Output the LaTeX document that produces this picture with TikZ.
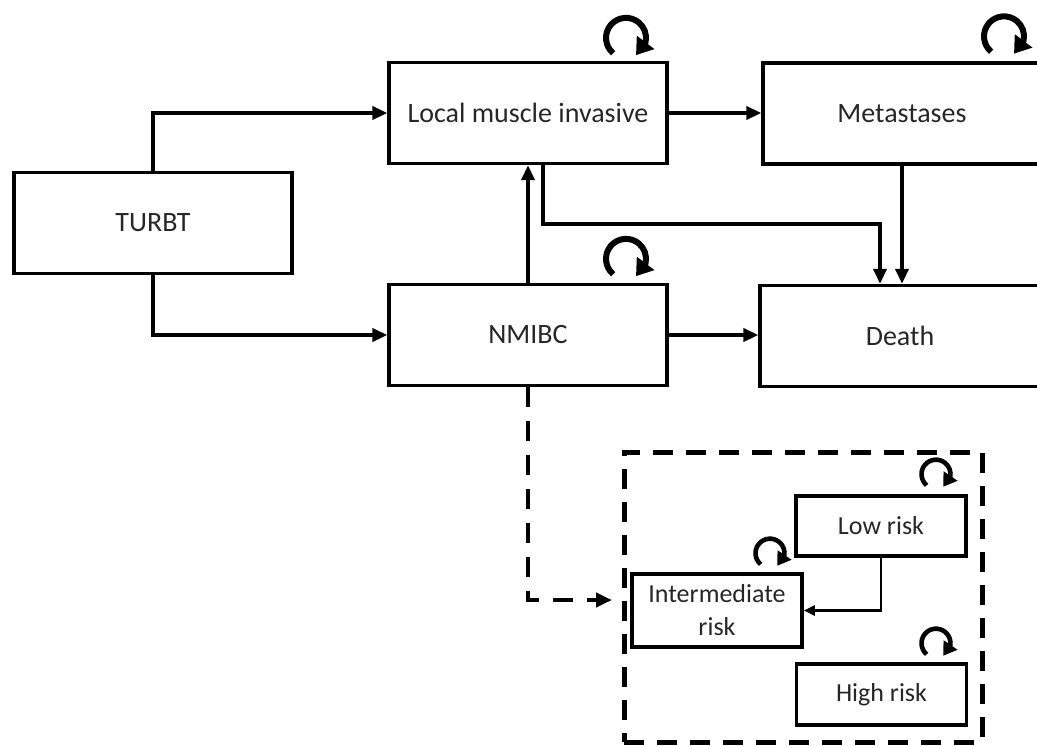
\documentclass[tikz,border=0pt]{standalone}
\usepackage{fontspec}
\setmainfont{Carlito}
\usetikzlibrary{arrows.meta,bending}

% circular "stay in state" arrow above a node: #1 anchor, #2 shift, #3 radius, #4 style
\newcommand\selfarc[4]{%
  \draw[#4] ([shift={(#2)}]#1) ++(-230:#3) arc[start angle=-230,end angle=60,radius=#3];}

\begin{document}
\begin{tikzpicture}[x=1pt,y=-1pt,
  box/.style={draw, line width=3.3pt, rectangle, inner sep=0pt,
    minimum width=278pt, minimum height=101pt,
    font=\fontsize{28}{32}\selectfont, text=black!85},
  smallbox/.style={draw, line width=3.6pt, rectangle, inner sep=0pt,
    minimum width=170pt, align=center,
    font=\fontsize{26}{33}\selectfont, text=black!85},
  arr/.style={line width=4pt, -{Triangle[length=15pt,width=13pt]}},
  thinarr/.style={line width=2.6pt, -{Triangle[length=11pt,width=10pt]}},
  dasharr/.style={line width=4.5pt, dash pattern=on 20pt off 14pt,
    -{Triangle[length=16pt,width=14pt]}},
  bigloop/.style={line width=6pt, -{Triangle[length=16pt,width=21pt]}},
  smallloop/.style={line width=4.6pt, -{Triangle[length=13pt,width=16pt]}},
  groupframe/.style={draw, line width=5pt, dash pattern=on 20pt off 13pt}
]
\useasboundingbox (0,0) rectangle (1037,745);

% main states
\node[box] (turbt) at (153,223) {TURBT};
\node[box] (local) at (528,113) {Local muscle invasive};
\node[box] (meta)  at (902,113.5) {Metastases};
\node[box] (nmibc) at (528,335) {NMIBC};
\node[box, minimum width=280pt] (death) at (900,336) {Death};

% NMIBC risk sub-states
\node[groupframe, rectangle, minimum width=358pt, minimum height=290pt, inner sep=0pt]
  (group) at (803,597) {};
\node[smallbox, minimum height=60pt] (low)   at (881,526) {Low risk};
\node[smallbox, minimum height=73pt] (inter) at (717,610.5) {Intermediate\\risk};
\node[smallbox, minimum height=61pt] (high)  at (881.5,694.5) {High risk};
\coordinate (dtip) at (612,600);

% transitions
\draw[arr] (turbt.north) |- (local.west);
\draw[arr] (turbt.south) |- (nmibc.west);
\draw[arr] (local.east) -- (local.east -| meta.west);
\draw[arr] (nmibc.east) -- (nmibc.east -| death.west);
\draw[arr] (nmibc.north) -- (local.south);
\draw[arr] ([xshift=15pt]local.south) -- ++(0,59) -| ([xshift=-20pt]death.north);
\draw[arr] (meta.south) -- (meta.south |- death.north);
\draw[dasharr] (nmibc.south) |- (dtip);
\draw[thinarr] (low.south) |- (inter.east);

% remaining in the same state
\selfarc{local.north}{98,-23}{20}{bigloop}
\selfarc{meta.north}{102,-25}{20}{bigloop}
\selfarc{nmibc.north}{98,-24}{20}{bigloop}
\selfarc{low.north}{55,-20}{14.5}{smallloop}
\selfarc{inter.north}{53,-19}{14.5}{smallloop}
\selfarc{high.north}{54.5,-19}{14.5}{smallloop}
\end{tikzpicture}
\end{document}
